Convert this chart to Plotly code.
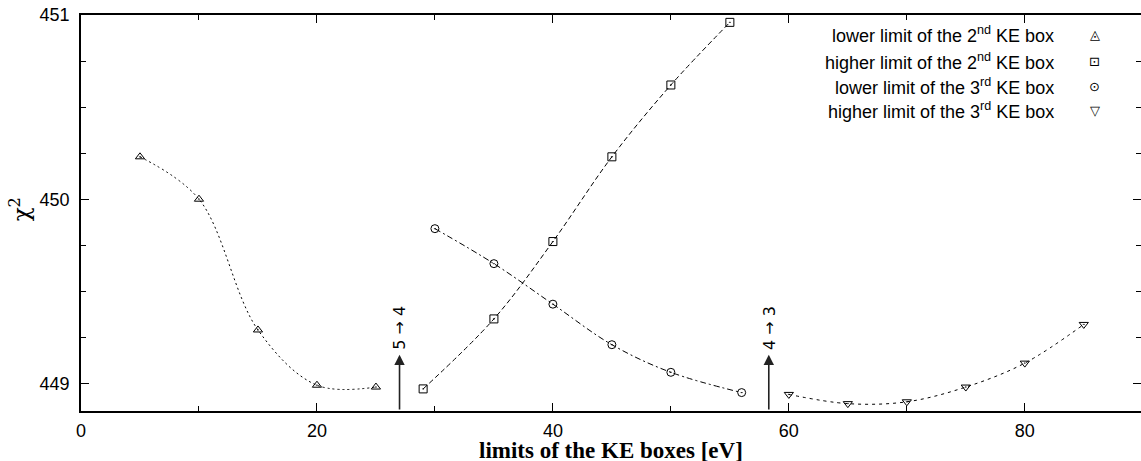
import plotly.graph_objects as go

# chi^2 against the limits of the KE boxes [eV]
low2_x = [5, 10, 15, 20, 25]
low2_chi2 = [450.23, 450.00, 449.29, 448.99, 448.98]

high2_x = [29, 35, 40, 45, 50, 55]
high2_chi2 = [448.97, 449.35, 449.77, 450.23, 450.62, 450.96]

low3_x = [30, 35, 40, 45, 50, 56]
low3_chi2 = [449.84, 449.65, 449.43, 449.21, 449.06, 448.95]

high3_x = [60, 65, 70, 75, 80, 85]
high3_chi2 = [448.94, 448.89, 448.90, 448.98, 449.11, 449.32]

series_names = ["lower limit of the 2<sup>nd</sup> KE box",
                "higher limit of the 2<sup>nd</sup> KE box",
                "lower limit of the 3<sup>rd</sup> KE box",
                "higher limit of the 3<sup>rd</sup> KE box"]

# box number transitions marked with arrows
transition_x = [27, 58.3]
transition_labels = ["5 → 4", "4 → 3"]

series = [
    (low2_x, low2_chi2, "triangle-up-open-dot", "2px,3px", "◬"),
    (high2_x, high2_chi2, "square-open-dot", "5px,3px", "⊡"),
    (low3_x, low3_chi2, "circle-open-dot", "6px,3px,2px,3px", "⊙"),
    (high3_x, high3_chi2, "triangle-down-open-dot", "3px,4px", "▽"),
]

fig = go.Figure()

for (xs, ys, symbol, dash, glyph), name in zip(series, series_names):
    fig.add_trace(go.Scatter(x=xs, y=ys, mode="lines+markers", name=name,
                             line=dict(color="black", width=1, dash=dash, shape="spline", smoothing=1),
                             marker=dict(symbol=symbol, size=8, color="black", line=dict(width=1, color="black")),
                             showlegend=False))

# gnuplot style key: text right aligned, symbol to the right
key_y = [0.9495, 0.8838, 0.8207, 0.7601]
for (xs, ys, symbol, dash, glyph), name, ky in zip(series, series_names, key_y):
    fig.add_annotation(text=name, xref="paper", yref="paper", x=0.9198, y=ky,
                       xanchor="right", yanchor="middle", showarrow=False,
                       font=dict(family="Liberation Sans", size=18, color="black"))
    fig.add_annotation(text=glyph, xref="paper", yref="paper", x=0.9566, y=ky,
                       xanchor="center", yanchor="middle", showarrow=False,
                       font=dict(family="DejaVu Sans", size=13, color="black"))

y_bottom = 448.85
for tx, label in zip(transition_x, transition_labels):
    fig.add_annotation(x=tx, y=449.156, ax=tx, ay=y_bottom, xref="x", yref="y",
                       axref="x", ayref="y", text="", showarrow=True,
                       arrowhead=2, arrowsize=1.3, arrowwidth=1.6, arrowcolor="#222222", standoff=0)
    fig.add_annotation(x=tx, y=449.30, xref="x", yref="y", text=label, textangle=-90,
                       showarrow=False, font=dict(family="DejaVu Sans", size=16, color="black"))

# axis titles
fig.add_annotation(text="<b>limits of the KE boxes [eV]</b>", xref="paper", yref="paper",
                   x=0.5, y=-0.0995, xanchor="center", yanchor="middle", showarrow=False,
                   font=dict(family="Liberation Serif", size=23, color="black"))
fig.add_annotation(text="χ<sup>2</sup>", xref="paper", yref="paper", x=-0.058, y=0.508,
                   textangle=-90, xanchor="center", yanchor="middle", showarrow=False,
                   font=dict(family="DejaVu Serif", size=23, color="black"))

fig.update_layout(width=1141, height=461,
                  margin=dict(l=81, r=0, t=15, b=50, autoexpand=False),
                  plot_bgcolor="white", paper_bgcolor="white",
                  font=dict(family="Liberation Sans", size=18, color="black"),
                  xaxis=dict(range=[0, 89.85], tick0=0, dtick=20, automargin=False,
                             ticks="inside", ticklen=8, tickwidth=1, tickcolor="black",
                             minor=dict(dtick=10, ticks="inside", ticklen=5, tickcolor="black"),
                             showline=True, linecolor="black", linewidth=1.5, mirror="allticks",
                             showgrid=False, zeroline=False, ticklabelstandoff=3),
                  yaxis=dict(range=[448.85, 451.0], tick0=449, dtick=1, automargin=False,
                             ticks="inside", ticklen=8, tickwidth=1, tickcolor="black",
                             minor=dict(dtick=0.25, ticks="inside", ticklen=5, tickcolor="black"),
                             showline=True, linecolor="black", linewidth=1.5, mirror="allticks",
                             showgrid=False, zeroline=False, ticklabelstandoff=6))

# drop the page's default body margin so the figure sits at the window's corner
fig.write_html("out.html", config={"displayModeBar": False},
               post_script="document.body.style.margin = '0px';")
